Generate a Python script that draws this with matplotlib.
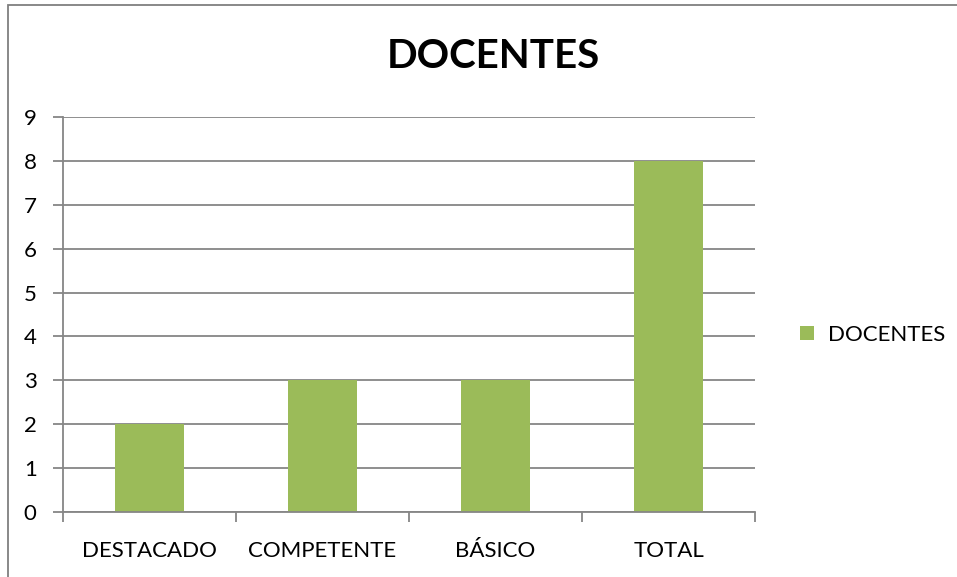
import matplotlib.pyplot as plt
from matplotlib.patches import Rectangle

# Data
categorias = ["DESTACADO", "COMPETENTE", "BÁSICO", "TOTAL"]
docentes = [2, 3, 3, 8]

plt.rcParams['font.family'] = ['Lato', 'DejaVu Sans']

bar_color = "#9BBB59"
grid_color = "#868686"

fig = plt.figure(figsize=(9.57, 5.77), dpi=100)
ax = fig.add_axes([63 / 957, 1 - 512 / 577, (755 - 63) / 957, (512 - 117) / 577])

x = list(range(len(categorias)))
ax.bar(x, docentes, width=0.395, color=bar_color, zorder=3, label="DOCENTES")

ax.set_xlim(-0.5, len(categorias) - 0.5)
ax.set_ylim(0, 9)
ax.set_yticks(range(0, 10))
ax.yaxis.grid(True, color=grid_color, linewidth=1.3, zorder=0)

# category boundaries carry the x tick marks, labels go in between
ax.set_xticks([i - 0.5 for i in range(len(categorias) + 1)], minor=False)
ax.set_xticklabels([])
ax.set_xticks(x, minor=True)
ax.set_xticklabels(categorias, minor=True)
ax.tick_params(axis='x', which='major', length=7, width=1.3, color=grid_color, direction='out')
ax.tick_params(axis='x', which='minor', length=0, pad=21, labelsize=16)
ax.tick_params(axis='y', length=7, width=1.3, color=grid_color, pad=12, labelsize=16)

for side in ("top", "right"):
    ax.spines[side].set_visible(False)
for side in ("left", "bottom"):
    ax.spines[side].set_color(grid_color)
    ax.spines[side].set_linewidth(1.3)
ax.spines["bottom"].set_zorder(4)

fig.text(0.516, 1 - 57 / 577, "DOCENTES", ha="center", va="center",
         fontsize=29, fontweight="bold")

fig.legend(loc="center left", bbox_to_anchor=(780 / 957, 1 - 335 / 577),
           frameon=False, fontsize=16, handlelength=0.63, handleheight=0.63,
           handletextpad=0.63)

# outer chart frame
fig.patches.append(Rectangle((8 / 957, -0.1), 1.2, 1 - 5 / 577 + 0.1,
                             transform=fig.transFigure, fill=False,
                             edgecolor="#7f7f7f", linewidth=1.3))

fig.savefig("out.png", dpi=100)
